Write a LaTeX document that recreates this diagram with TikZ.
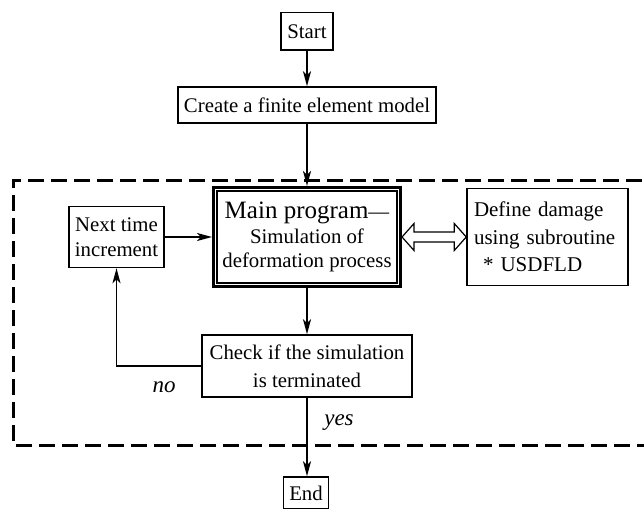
\documentclass[tikz,border=0pt]{standalone}
\usepackage{fontspec}
\setmainfont{Liberation Serif}
\usetikzlibrary{arrows.meta,calc}
\begin{document}
\begin{tikzpicture}[x=1pt,y=-1pt,
  box/.style={draw, line width=1.5pt, align=center, inner sep=0pt,
    font=\fontsize{20.8}{26}\selectfont},
  arr/.style={line width=1.5pt, -{Stealth[length=15pt,width=8pt,inset=4pt]}},
  lbl/.style={font=\fontsize{23}{26}\selectfont\itshape, inner sep=0pt},
  dashbox/.style={line width=3pt, dash pattern=on 16pt off 7pt}]
\useasboundingbox (0,0) rectangle (644,508);
% dashed region
\draw[dashbox] (665,180) -- (13,180) -- (13,445) -- (665,445);
% nodes
\node[box, minimum width=52, minimum height=37.5] (start) at (307,31.5) {Start};
\node[box, minimum height=36, inner xsep=6pt] (create) at (307,105) {Create a finite element model};
\node[box, line width=3pt, minimum width=187, minimum height=99,
  font=\fontsize{20.8}{24.5}\selectfont] (main) at (307,237)
  {{\fontsize{25}{28}\selectfont Main program}—\\Simulation of\\deformation process};
\draw[line width=1.5pt] ($(main.north west)+(5,5)$) rectangle ($(main.south east)+(-5,-5)$);
\node[box, align=left, text width=147, minimum width=161, minimum height=97,
  font=\fontsize{21}{27.5}\selectfont] (def) at (547.5,237)
  {Define damage\\using subroutine\\\hspace*{9pt}* USDFLD};
\node[box, minimum width=95, minimum height=61,
  font=\fontsize{20.8}{25}\selectfont] (next) at (116.5,237) {Next time\\increment};
\node[box, minimum width=210, minimum height=62,
  font=\fontsize{20.8}{28}\selectfont] (check) at (307,366) {Check if the simulation\\is terminated};
\node[box, minimum width=45, minimum height=32] (end) at (306,493) {End};
\node[lbl] (no) at (164,387) {no};
\node[lbl] (yes) at (339,423) {yes};
% connectors
\draw[arr] (start.south) -- (create.north);
\draw[arr] (create.south) -- (main.north);
\draw[arr] (main.south) -- (check.north);
\draw[arr] (check.south) -- (check.south |- end.north);
\draw[arr] (check.west) -| (next.south);
\draw[arr] (next.east) -- (main.west);
\draw[line width=1.2pt, fill=white] (main.east) -- ++(12,-13.5) -- ++(0,8.5)
  -- ($(def.west)+(-12,-5)$) -- ++(0,-8.5) -- (def.west) -- ++(-12,13.5)
  -- ++(0,-8.5) -- ($(main.east)+(12,5)$) -- ++(0,8.5) -- cycle;
\end{tikzpicture}
\end{document}
